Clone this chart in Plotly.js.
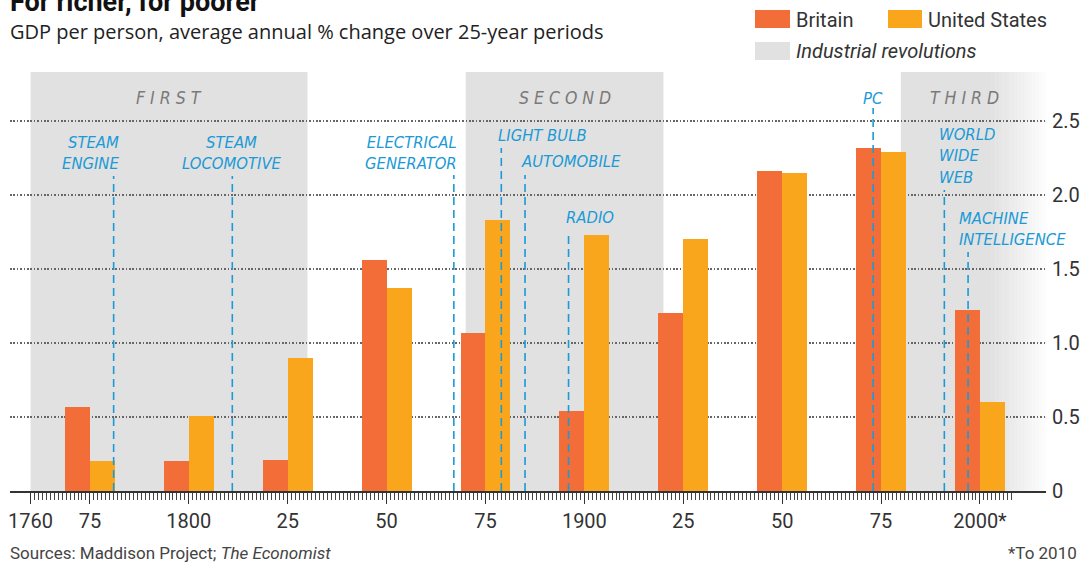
<!DOCTYPE html>
<html><head><meta charset="utf-8">
<script src="https://cdn.plot.ly/plotly-3.0.1.min.js"></script>
<style>html,body{margin:0;padding:0;background:#fff}#chart{width:1081px;height:564px}</style>
</head><body><div id="chart"></div>
<script>
// ---- data ----
const periods = [1775, 1800, 1825, 1850, 1875, 1900, 1925, 1950, 1975, 2000];
const britain = [0.57, 0.20, 0.21, 1.56, 1.07, 0.54, 1.20, 2.16, 2.32, 1.22];
const unitedStates = [0.20, 0.51, 0.90, 1.37, 1.83, 1.73, 1.70, 2.15, 2.29, 0.60];
const xTickYears = [1760, 1775, 1800, 1825, 1850, 1875, 1900, 1925, 1950, 1975, 2000];
const xTickLabels = ['1760', '75', '1800', '25', '50', '75', '1900', '25', '50', '75', '2000*'];
const yTickValues = [0, 0.5, 1, 1.5, 2, 2.5];
const yTickLabels = ['0', '0.5', '1.0', '1.5', '2.0', '2.5'];
const revolutionNames = ['F I R S T', 'S E C O N D', 'T H I R D'];
const revolutionStart = [1760, 1870, 1980];
const revolutionEnd = [1830, 1920, 2003];
const inventionNames = ['STEAM<br>ENGINE', 'STEAM<br>LOCOMOTIVE', 'ELECTRICAL<br>GENERATOR', 'LIGHT BULB',
  'AUTOMOBILE', 'RADIO', 'PC', 'WORLD<br>WIDE<br>WEB', 'MACHINE<br>INTELLIGENCE'];
const inventionYears = [1781, 1811, 1867, 1879, 1885, 1896, 1973, 1991, 1997];

// ---- styling / placement ----
const C_BRIT = '#f26d38', C_US = '#f9a61c', C_BAND = '#e1e1e1', C_BLUE = '#1b9ad6';
const FONT = 'Roboto, "Open Sans", sans-serif';
const SUBFONT = '"Open Sans", Roboto, sans-serif';
const NARROW = '"Liberation Sans Narrow", "DejaVu Sans Condensed", sans-serif';
const barW = 6.3;
// label placement per invention: [xanchor, xshift px, label y (value), line top (value)]
const invPlace = [
  ['right', 7, 2.287, 2.128],
  ['center', 0, 2.287, 2.128],
  ['right', 5, 2.287, 2.135],
  ['left', -5, 2.405, 2.318],
  ['left', -6, 2.223, 2.135],
  ['left', -5, 1.851, 1.75],
  ['center', 0, 2.649, 2.588],
  ['left', -7, 2.264, 2.034],
  ['left', -11, 1.770, 1.615]
];
const L = 10, R = 35, T = 72, B = 73, W = 1081, H = 564;
const pw = W - L - R, ph = H - T - B;
const px = v => (v - L) / pw;          // pixel x -> paper
const py = v => (H - B - v) / ph;      // pixel y -> paper

const traces = [
  {type: 'bar', x: periods, y: britain, width: barW, offset: -barW, marker: {color: C_BRIT}, showlegend: false, hoverinfo: 'skip'},
  {type: 'bar', x: periods, y: unitedStates, width: barW, offset: 0, marker: {color: C_US}, showlegend: false, hoverinfo: 'skip'}
];

const shapes = [];
revolutionStart.forEach((s, i) => {
  shapes.push({type: 'rect', xref: 'x', yref: 'paper', x0: s, x1: revolutionEnd[i], y0: 0, y1: 1,
    fillcolor: C_BAND, line: {width: 0}, layer: 'below'});
});
// fade of the third band
const fadeSteps = 16;
for (let i = 0; i < fadeSteps; i++) {
  const a = 1 - (i + 0.5) / fadeSteps;
  shapes.push({type: 'rect', xref: 'x', yref: 'paper', x0: 2003 + i * 0.9, x1: 2003 + (i + 1) * 0.9 + 0.05, y0: 0, y1: 1,
    fillcolor: 'rgba(225,225,225,' + a.toFixed(3) + ')', line: {width: 0}, layer: 'below'});
}
inventionYears.forEach((yr, i) => {
  shapes.push({type: 'line', xref: 'x', yref: 'y', x0: yr, x1: yr, y0: 0, y1: invPlace[i][3],
    line: {color: C_BLUE, width: 1.6, dash: '8px,5px'}, layer: 'above'});
});
// legend swatches
shapes.push({type: 'rect', xref: 'paper', yref: 'paper', x0: px(755), x1: px(790), y0: py(28), y1: py(10), fillcolor: C_BRIT, line: {width: 0}});
shapes.push({type: 'rect', xref: 'paper', yref: 'paper', x0: px(888), x1: px(922), y0: py(28), y1: py(10), fillcolor: C_US, line: {width: 0}});
shapes.push({type: 'rect', xref: 'paper', yref: 'paper', x0: px(755), x1: px(790), y0: py(60), y1: py(42), fillcolor: C_BAND, line: {width: 0}});

const annotations = [];
inventionNames.forEach((name, i) => {
  const p = invPlace[i];
  annotations.push({text: '<i>' + name + '</i>', x: inventionYears[i], y: p[2], xref: 'x', yref: 'y',
    xanchor: p[0], yanchor: 'middle', xshift: p[1], showarrow: false, align: p[0] === 'center' ? 'center' : p[0],
    font: {family: NARROW, size: 16.5, color: C_BLUE}});
});
revolutionNames.forEach((name, i) => {
  const mid = i === 2 ? 1996.2 : (revolutionStart[i] + revolutionEnd[i]) / 2;
  annotations.push({text: '<i>' + name + '</i>', x: mid, y: 2.655, xref: 'x', yref: 'y', xanchor: 'center', yanchor: 'middle',
    showarrow: false, font: {family: NARROW, size: 17.5, color: '#7a7a7a'}});
});
// titles & legend text
annotations.push({text: '<b>For richer, for poorer</b>', xref: 'paper', yref: 'paper', x: px(8), y: py(2), xanchor: 'left', yanchor: 'middle',
  showarrow: false, font: {family: FONT, size: 27, color: '#111'}});
annotations.push({text: 'GDP per person, average annual % change over 25-year periods', xref: 'paper', yref: 'paper', x: px(8), y: py(31),
  xanchor: 'left', yanchor: 'middle', showarrow: false, font: {family: SUBFONT, size: 20, color: '#222'}});
annotations.push({text: 'Britain', xref: 'paper', yref: 'paper', x: px(794), y: py(20), xanchor: 'left', yanchor: 'middle',
  showarrow: false, font: {family: FONT, size: 20, color: '#333'}});
annotations.push({text: 'United States', xref: 'paper', yref: 'paper', x: px(926), y: py(20), xanchor: 'left', yanchor: 'middle',
  showarrow: false, font: {family: FONT, size: 20, color: '#333'}});
annotations.push({text: '<i>Industrial revolutions</i>', xref: 'paper', yref: 'paper', x: px(794), y: py(51), xanchor: 'left', yanchor: 'middle',
  showarrow: false, font: {family: FONT, size: 20, color: '#333'}});
annotations.push({text: 'Sources: Maddison Project; <i>The Economist</i>', xref: 'paper', yref: 'paper', x: px(8), y: py(553), xanchor: 'left', yanchor: 'middle',
  showarrow: false, font: {family: FONT, size: 17, color: '#444'}});
annotations.push({text: '*To 2010', xref: 'paper', yref: 'paper', x: px(1079), y: py(553), xanchor: 'right', yanchor: 'middle',
  showarrow: false, font: {family: FONT, size: 17, color: '#444'}});

const minorTicks = [];
for (let yr = 1760; yr <= 2008; yr++) minorTicks.push(yr);

const layout = {
  width: W, height: H,
  margin: {l: L, r: R, t: T, b: B, pad: 0},
  paper_bgcolor: '#fff', plot_bgcolor: 'rgba(0,0,0,0)',
  barmode: 'overlay', bargap: 0,
  showlegend: false,
  font: {family: FONT, color: '#333'},
  xaxis: {
    type: 'linear', range: [1754.8, 2016.7], fixedrange: true,
    tickmode: 'array', tickvals: xTickYears, ticktext: xTickLabels,
    ticks: 'outside', ticklen: 11, tickwidth: 1, tickcolor: '#333',
    minor: {tickmode: 'array', tickvals: minorTicks, ticks: 'outside', ticklen: 7, tickwidth: 1, tickcolor: '#444', showgrid: false},
    showline: true, linecolor: '#333', linewidth: 1.5,
    showgrid: false, zeroline: false,
    tickfont: {family: FONT, size: 20, color: '#333'},
    automargin: false
  },
  yaxis: {
    side: 'right', range: [0, 2.831], fixedrange: true,
    tickmode: 'array', tickvals: yTickValues, ticktext: yTickLabels,
    ticks: '', ticklabelstandoff: 5,
    showgrid: true, gridcolor: '#666', gridwidth: 1.6, griddash: '1.6px,1.8px',
    zeroline: false, showline: false,
    tickfont: {family: FONT, size: 20, color: '#333'},
    automargin: false
  },
  shapes: shapes,
  annotations: annotations
};

Plotly.newPlot('chart', traces, layout, {displayModeBar: false, staticPlot: true});
</script>
</body></html>
